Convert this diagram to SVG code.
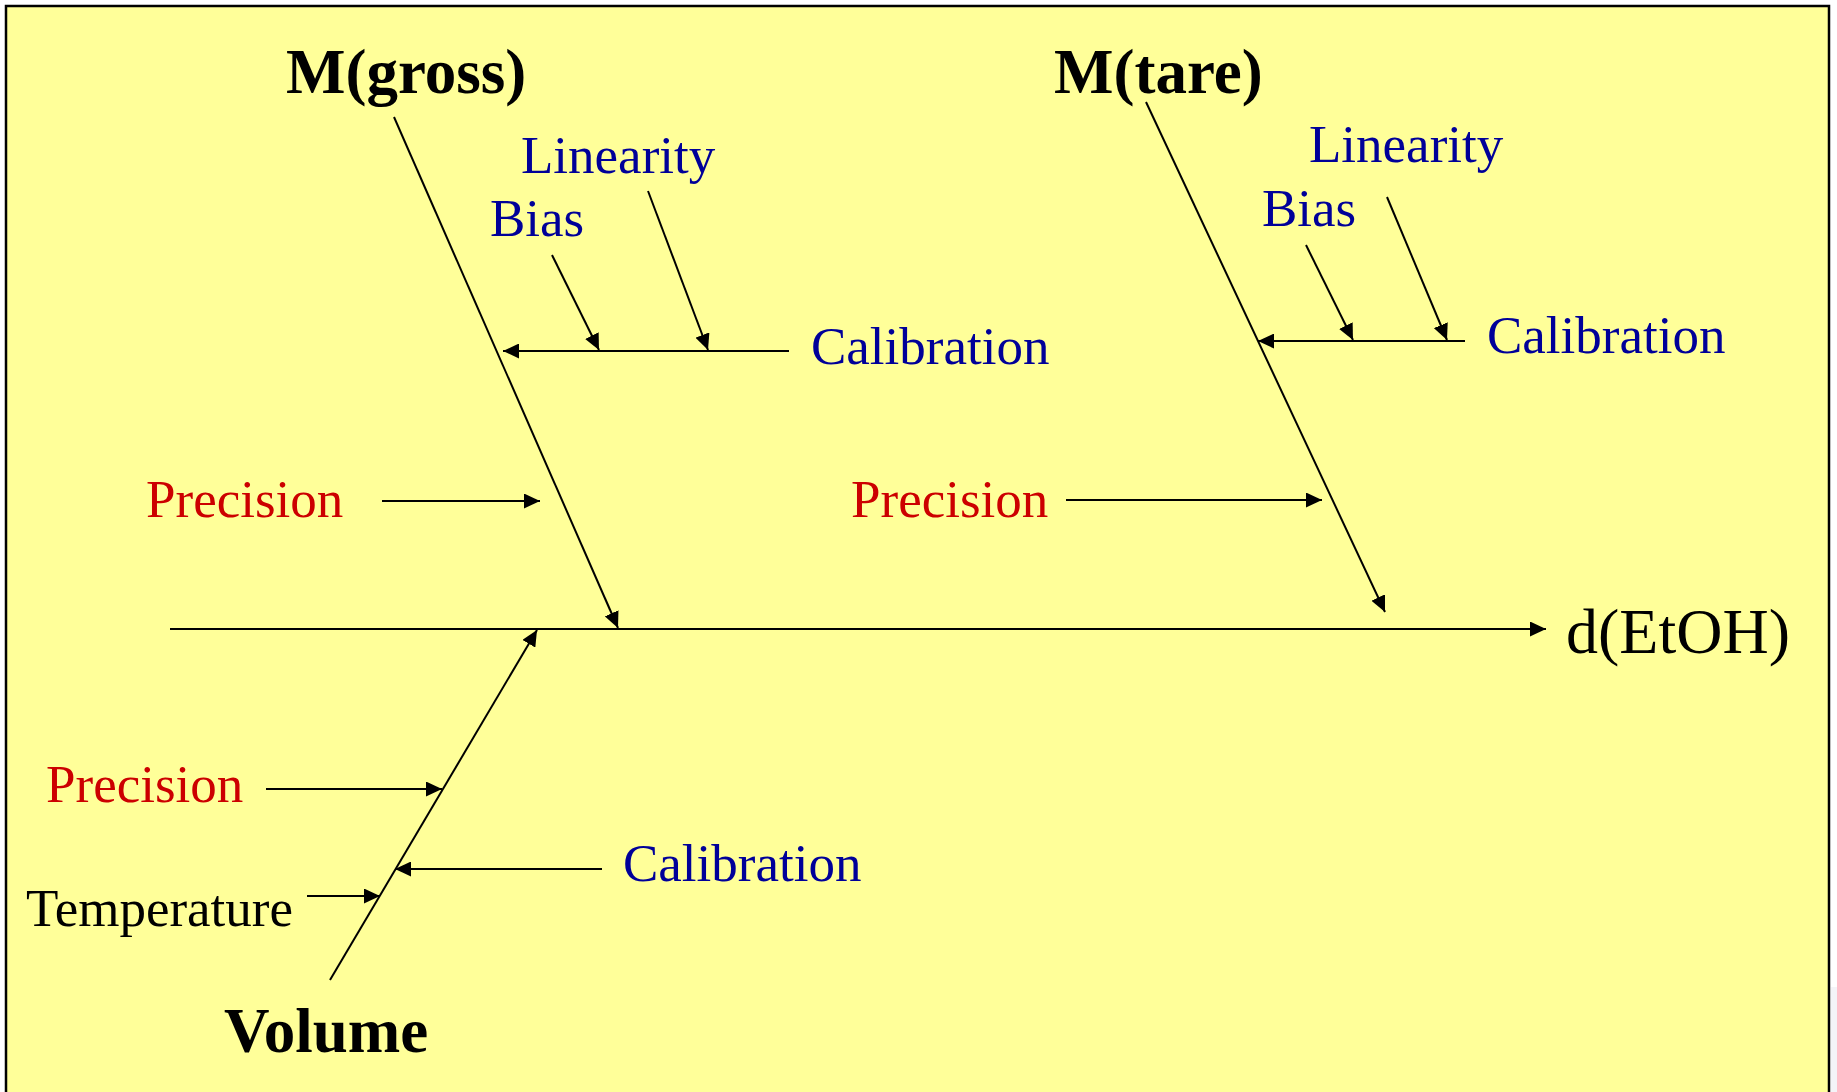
<svg xmlns="http://www.w3.org/2000/svg" width="1837" height="1092" viewBox="0 0 1837 1092">
<style>
.t{font-family:"Liberation Serif","Times New Roman",serif;}
.lbl{font-size:53px;}
.ttl{font-size:63px;font-weight:bold;fill:#000;}
.blue{fill:#000099;}
.red{fill:#CC0000;}
.blk{fill:#000;}
.ln{stroke:#000;stroke-width:2;fill:none;}
.arr{marker-end:url(#ah);}
</style>
<defs>
<marker id="ah" markerUnits="userSpaceOnUse" markerWidth="17" markerHeight="15" refX="16" refY="7.5" orient="auto">
<path d="M0,0 L16,7.5 L0,15 z" fill="#000"/>
</marker>
</defs>
<rect x="0" y="0" width="1837" height="1092" fill="#fff"/>
<rect x="6" y="6" width="1823" height="1100" fill="#FFFF99" stroke="#000" stroke-width="2.5"/>
<rect x="1831" y="987" width="6" height="105" fill="#f4f4f8"/>

<g id="connectors">
<line class="ln arr" x1="170" y1="629" x2="1546" y2="629"/>
<line class="ln arr" x1="394" y1="117" x2="618" y2="628"/>
<line class="ln arr" x1="1146" y1="102" x2="1385" y2="612"/>
<line class="ln arr" x1="330" y1="980" x2="537" y2="630"/>
<line class="ln arr" x1="789" y1="351" x2="503" y2="351"/>
<line class="ln arr" x1="552" y1="255" x2="599" y2="350"/>
<line class="ln arr" x1="648" y1="191" x2="708" y2="350"/>
<line class="ln arr" x1="1465" y1="341" x2="1258" y2="341"/>
<line class="ln arr" x1="1306" y1="245" x2="1353" y2="340"/>
<line class="ln arr" x1="1387" y1="197" x2="1447" y2="340"/>
<line class="ln arr" x1="382" y1="501" x2="540" y2="501"/>
<line class="ln arr" x1="1066" y1="500" x2="1322" y2="500"/>
<line class="ln arr" x1="266" y1="789" x2="442" y2="789"/>
<line class="ln arr" x1="602" y1="869" x2="395" y2="869"/>
<line class="ln arr" x1="307" y1="896" x2="380" y2="896"/>
</g>

<g id="n-mgross"><text class="t ttl" x="286" y="93">M(gross)</text></g>
<g id="n-mtare"><text class="t ttl" x="1054" y="93">M(tare)</text></g>
<g id="n-volume"><text class="t ttl" x="224" y="1052">Volume</text></g>
<g id="n-detoh"><text class="t blk" x="1566" y="653" font-size="64">d(EtOH)</text></g>

<g id="n-lin1"><text class="t lbl blue" x="521" y="173">Linearity</text></g>
<g id="n-bias1"><text class="t lbl blue" x="490" y="236">Bias</text></g>
<g id="n-cal1"><text class="t lbl blue" x="811" y="364">Calibration</text></g>
<g id="n-lin2"><text class="t lbl blue" x="1309" y="162">Linearity</text></g>
<g id="n-bias2"><text class="t lbl blue" x="1262" y="226">Bias</text></g>
<g id="n-cal2"><text class="t lbl blue" x="1487" y="353">Calibration</text></g>
<g id="n-prec1"><text class="t lbl red" x="146" y="517">Precision</text></g>
<g id="n-prec2"><text class="t lbl red" x="851" y="517">Precision</text></g>
<g id="n-prec3"><text class="t lbl red" x="46" y="802">Precision</text></g>
<g id="n-cal3"><text class="t lbl blue" x="623" y="881">Calibration</text></g>
<g id="n-temp"><text class="t lbl blk" x="26" y="926">Temperature</text></g>
</svg>
